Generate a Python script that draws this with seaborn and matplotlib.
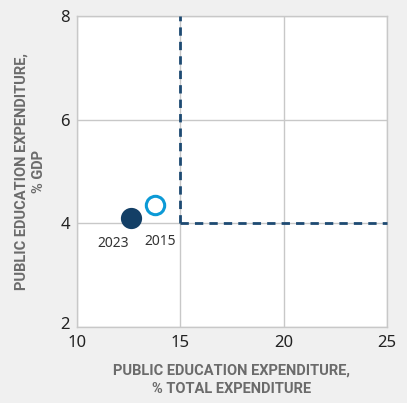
import matplotlib
matplotlib.use("Agg")
import matplotlib.pyplot as plt
import matplotlib.transforms as mtransforms
import seaborn as sns
import pandas as pd

# data
years = ["2023", "2015"]
pct_total_exp = [12.6, 13.8]
pct_gdp = [4.1, 4.35]
label_x = [11.75, 14.0]
label_y = [3.6, 3.64]
benchmark_total = 15
benchmark_gdp = 4

sns.set_style("whitegrid")
plt.rcParams['font.family'] = ['Noto Sans', 'DejaVu Sans']

df = pd.DataFrame({"year": years, "total": pct_total_exp, "gdp": pct_gdp})

fig = plt.figure(figsize=(4.07, 4.03), dpi=100, facecolor="#f0f0f0")
ax = fig.add_axes([0.189, 0.189, 0.762, 0.771])
ax.set_facecolor("white")

navy = "#133f66"
light = "#0c9ad6"

# benchmark lines
ax.plot([benchmark_total, benchmark_total], [benchmark_gdp, 8], ls=(0, (3, 2.2)),
        color="#1d4a72", lw=2, zorder=3, clip_on=False)
ax.plot([benchmark_total, 25], [benchmark_gdp, benchmark_gdp], ls=(0, (3, 2.2)),
        color="#1d4a72", lw=2, zorder=3, clip_on=False)

sns.scatterplot(data=df[df.year == "2023"], x="total", y="gdp", ax=ax,
                s=200, color=navy, edgecolor=navy, zorder=4, legend=False)
sns.scatterplot(data=df[df.year == "2015"], x="total", y="gdp", ax=ax,
                s=175, facecolor="white", edgecolor=light, linewidth=2.2,
                zorder=4, legend=False)

for yr, lx, ly in zip(years, label_x, label_y):
    ax.text(lx, ly, yr, ha="center", va="center", fontsize=10, color="#333333")

ax.set_xlim(10, 25)
ax.set_ylim(2, 8)
ax.set_xticks([10, 15, 20, 25])
ax.set_yticks([2, 4, 6, 8])
ax.grid(True, color="#c8c8c8", lw=1)
for s in ax.spines.values():
    s.set_color("#c8c8c8")
    s.set_linewidth(1)
ax.tick_params(axis="both", labelsize=12, colors="#222222", length=0)
ax.tick_params(axis="y", pad=5)
ax.tick_params(axis="x", pad=6)

# nudge the bottom y tick label up so it clears the "10"
fig.canvas.draw()
ax.get_yticklabels()[0].set_transform(
    ax.get_yticklabels()[0].get_transform()
    + mtransforms.ScaledTranslation(0, 3 / 72, fig.dpi_scale_trans))

lab = dict(fontsize=10.5, fontweight="bold", color="#6b6b6b", linespacing=1.4,
           family=["Roboto", "DejaVu Sans"])
ax.set_xlabel("PUBLIC EDUCATION EXPENDITURE,\n% TOTAL EXPENDITURE", labelpad=9, **lab)
ax.set_ylabel("PUBLIC EDUCATION EXPENDITURE,\n% GDP", labelpad=10, **lab)

fig.savefig("out.png", dpi=100, facecolor=fig.get_facecolor())
